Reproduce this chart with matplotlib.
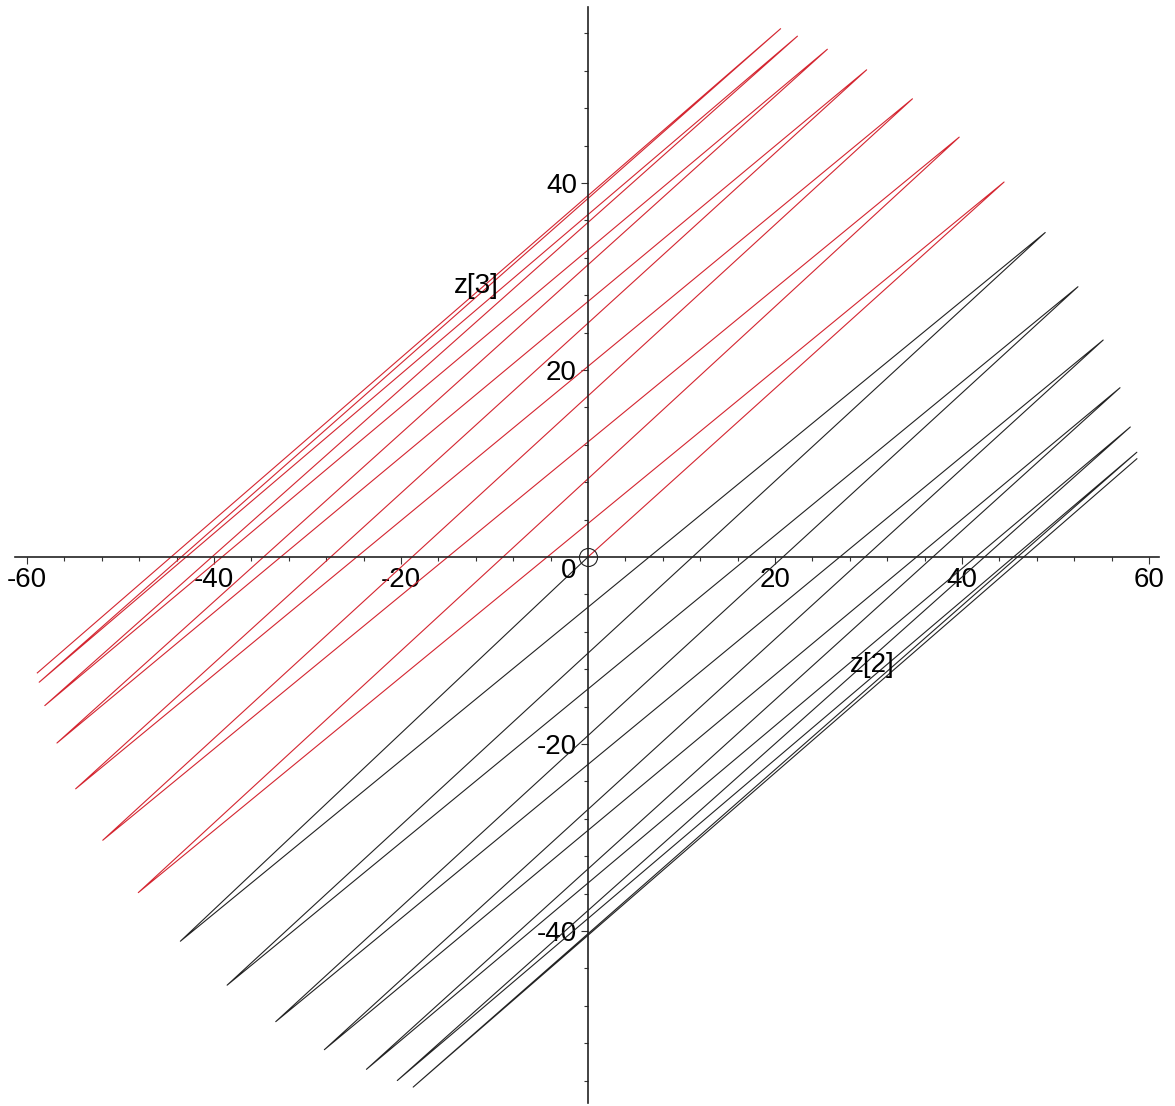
import matplotlib.pyplot as plt

plt.rcParams['font.family'] = ['Liberation Sans', 'DejaVu Sans']
plt.rcParams['axes.unicode_minus'] = False

# trajectory for t > 0 (red): starts at the origin, zigzags between far tips
red_z2 = [0.0, 44.5, -48.1, 39.7, -51.9, 34.7, -54.8, 29.8, -56.8, 25.6, -58.1, 22.4, -58.7, 20.6, -58.9]
red_z3 = [0.0, 40.1, -35.9, 44.9, -30.3, 49.0, -24.8, 52.1, -19.9, 54.3, -15.9, 55.7, -13.4, 56.5, -12.4]

# trajectory for t < 0 (black)
blk_z2 = [0.0, -43.6, 48.9, -38.6, 52.4, -33.4, 55.1, -28.2, 56.9, -23.7, 58.0, -20.4, 58.7, -18.7, 58.7]
blk_z3 = [0.0, -41.1, 34.7, -45.8, 28.9, -49.7, 23.2, -52.7, 18.1, -54.8, 13.9, -56.0, 11.2, -56.7, 10.5]

major_ticks = [-60, -40, -20, 20, 40, 60]
minor_ticks = [v for v in range(-60, 61, 4) if v % 20 != 0]

fig = plt.figure(figsize=(11.75, 11.06), dpi=100)
ax = fig.add_axes([0.01106, 0.00018, 0.97796, 0.99503])

ax.plot(red_z2, red_z3, color='#d42530', lw=0.8, solid_joinstyle='round')
ax.plot(blk_z2, blk_z3, color='#222222', lw=0.8, solid_joinstyle='round')
ax.plot([0], [0], marker='o', ms=13, mfc='none', mec='#222222', mew=0.8)

ax.set_xlim(-61.5, 61.4)
ax.set_ylim(-58.7, 59.0)

# axes crossing at the origin
for side in ['top', 'right']:
    ax.spines[side].set_visible(False)
ax.spines['left'].set_position(('data', 0))
ax.spines['bottom'].set_position(('data', 0))
ax.spines['bottom'].set_bounds(-61.3, 61.1)
ax.spines['left'].set_bounds(-58.4, 58.8)
for side in ['left', 'bottom']:
    ax.spines[side].set_color('#222222')
    ax.spines[side].set_linewidth(1.2)

ax.set_xticks(major_ticks)
ax.set_yticks(major_ticks[1:-1])
ax.set_xticks(minor_ticks, minor=True)
ax.set_yticks([v for v in minor_ticks if -58 < v < 58], minor=True)
ax.tick_params(which='major', direction='out', length=5, width=0.8, color='#333333',
               labelsize=20, pad=2)
ax.tick_params(which='minor', direction='out', length=3, width=0.8, color='#333333')
ax.tick_params(axis='y', which='major', pad=3)

ax.text(-1.28, -0.1, '0', fontsize=20, ha='right', va='top')
ax.text(30.4, -11.55, 'z[2]', fontsize=20, ha='center', va='center')
ax.text(-11.9, 29.0, 'z[3]', fontsize=20, ha='center', va='center')

fig.savefig('out.png', dpi=100)
